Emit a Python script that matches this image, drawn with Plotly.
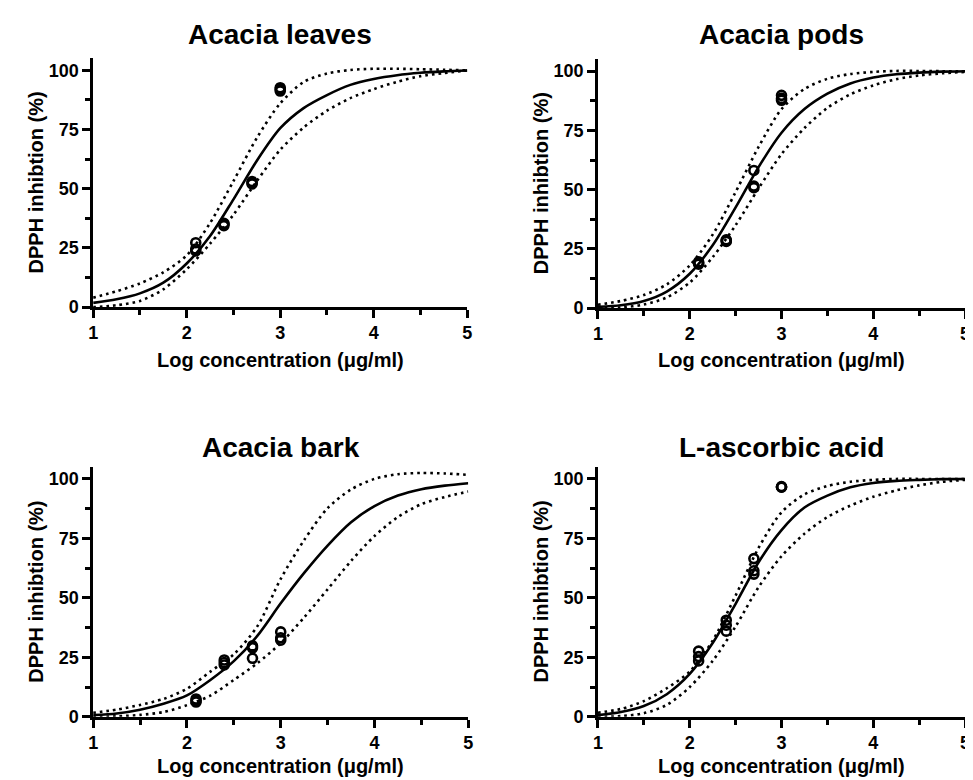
import plotly.graph_objects as go

# ---------------- data ----------------
x_grid = [1.0, 1.25, 1.5, 1.75, 2.0, 2.25, 2.5, 2.75, 3.0, 3.25, 3.5, 3.75, 4.0, 4.25, 4.5, 4.75, 5.0]
conc_log = [2.097, 2.398, 2.699, 3.0]

leaves_fit = [1.8, 3.3, 5.8, 10.3, 18.4, 30.0, 45.5, 61.8, 75.5, 84.0, 89.5, 93.8, 96.3, 97.9, 98.9, 99.5, 99.9]
leaves_upper = [4.0, 6.7, 10.0, 14.7, 21.8, 35.5, 53.2, 71.4, 86.0, 95.0, 98.6, 100.1, 100.6, 100.6, 100.4, 100.2, 99.9]
leaves_lower = [0.0, 0.8, 2.6, 7.5, 16.0, 26.8, 39.0, 53.2, 66.4, 75.8, 82.9, 88.2, 92.0, 95.1, 97.5, 98.8, 99.9]
leaves_reps = [[27.2, 23.7, 24.5], [35.4, 34.4, 35.0], [52.4, 53.0, 52.0], [92.6, 91.2, 92.0]]

pods_fit = [0.5, 1.2, 3.0, 7.0, 14.5, 26.5, 42.5, 59.5, 74.0, 84.0, 90.5, 94.8, 97.3, 98.7, 99.4, 99.8, 100.0]
pods_upper = [1.4, 3.0, 5.5, 10.0, 18.0, 31.0, 49.0, 68.0, 84.0, 92.5, 96.8, 98.8, 99.7, 100.1, 100.1, 100.0, 100.0]
pods_lower = [0.0, 0.3, 1.5, 4.5, 10.8, 21.5, 35.0, 50.5, 65.0, 76.0, 84.5, 90.2, 94.0, 96.6, 98.2, 99.1, 99.7]
pods_reps = [[19.0, 18.5, 19.5], [28.1, 28.8, 28.5], [58.1, 50.8, 51.5], [89.8, 87.7, 88.5]]

bark_fit = [0.7, 1.4, 3.0, 5.5, 9.0, 15.5, 23.4, 34.0, 47.7, 60.5, 72.0, 81.8, 88.6, 93.0, 95.7, 97.2, 98.2]
bark_upper = [1.7, 3.0, 5.0, 7.5, 11.8, 19.0, 26.3, 38.0, 58.0, 74.3, 87.7, 95.6, 100.0, 102.0, 102.5, 102.3, 101.7]
bark_lower = [0.0, 0.2, 0.8, 2.0, 4.9, 8.9, 15.5, 22.5, 31.0, 41.8, 53.6, 65.5, 76.0, 84.0, 89.4, 92.4, 94.7]
bark_reps = [[7.5, 6.2, 6.8], [23.9, 21.8, 22.8], [29.8, 29.0, 24.6], [35.7, 32.2, 33.2]]

ascorbic_fit = [0.7, 2.0, 4.5, 9.5, 18.0, 31.0, 47.5, 65.0, 78.5, 88.0, 93.0, 96.5, 98.3, 99.2, 99.6, 99.9, 100.0]
ascorbic_upper = [1.7, 3.3, 6.6, 12.0, 19.0, 32.0, 51.0, 71.0, 86.0, 93.5, 97.0, 98.8, 99.6, 100.0, 100.0, 100.0, 100.0]
ascorbic_lower = [0.0, 0.3, 1.5, 5.0, 12.5, 23.5, 38.0, 54.5, 67.5, 77.0, 84.0, 88.8, 92.5, 95.2, 97.3, 98.8, 99.6]
ascorbic_reps = [[27.6, 25.3, 23.5], [40.6, 38.5, 36.0], [66.5, 61.4, 60.0], [96.8, 96.5, 96.6]]

panel_titles = ["Acacia leaves", "Acacia pods", "Acacia bark", "L-ascorbic acid"]
x_title = "Log concentration (μg/ml)"
y_title = "DPPH inhibtion (%)"

# ---------------- layout geometry ----------------
W, H = 973, 780
x_doms = [[81 / W, 459 / W], [591 / W, 962 / W], [81 / W, 460 / W], [591 / W, 962 / W]]
y_doms = [[1 - 303 / H, 1 - 51 / H], [1 - 304 / H, 1 - 52 / H], [1 - 718 / H, 1 - 465 / H], [1 - 718 / H, 1 - 465 / H]]
title_y = [27, 27, 445, 445]
xtitle_y = [357, 357, 768, 768]

FONT = "Liberation Sans, Arial, sans-serif"

panels = [
    (leaves_fit, leaves_upper, leaves_lower, leaves_reps),
    (pods_fit, pods_upper, pods_lower, pods_reps),
    (bark_fit, bark_upper, bark_lower, bark_reps),
    (ascorbic_fit, ascorbic_upper, ascorbic_lower, ascorbic_reps),
]

fig = go.Figure()
annotations = []
for i, (fit, upper, lower, reps) in enumerate(panels):
    xa = "x" if i == 0 else f"x{i + 1}"
    ya = "y" if i == 0 else f"y{i + 1}"
    for band in (upper, lower):
        fig.add_trace(go.Scatter(
            x=x_grid, y=band, mode="lines", xaxis=xa, yaxis=ya, showlegend=False,
            line=dict(color="black", width=2.6, dash="2.6px,4px", shape="spline", smoothing=0.8),
        ))
    fig.add_trace(go.Scatter(
        x=x_grid, y=fit, mode="lines", xaxis=xa, yaxis=ya, showlegend=False,
        line=dict(color="black", width=2.6, shape="spline", smoothing=0.8),
    ))
    px, py = [], []
    for xv, vals in zip(conc_log, reps):
        for v in vals:
            px.append(xv)
            py.append(v)
    fig.add_trace(go.Scatter(
        x=px, y=py, mode="markers", xaxis=xa, yaxis=ya, showlegend=False,
        marker=dict(symbol="circle-open", size=9, color="black", line=dict(width=2.6, color="black")),
    ))

    xkey = "xaxis" if i == 0 else f"xaxis{i + 1}"
    ykey = "yaxis" if i == 0 else f"yaxis{i + 1}"
    tickfont = dict(family=FONT, size=18, color="black", weight="bold")
    fig.update_layout(**{
        xkey: dict(
            domain=x_doms[i], anchor=ya, range=[1, 5], tick0=1, dtick=1,
            ticks="outside", ticklen=8, tickwidth=2.5, tickcolor="black",
            showline=True, linewidth=2.5, linecolor="black",
            showgrid=False, zeroline=False, tickfont=tickfont,
            minor=dict(ticks="outside", ticklen=5, tickwidth=2.5, tickcolor="black", dtick=0.5, showgrid=False),
        ),
        ykey: dict(
            domain=y_doms[i], anchor=xa, range=[0, 105], tick0=0, dtick=25,
            ticks="outside", ticklen=8, tickwidth=2.5, tickcolor="black",
            showline=True, linewidth=2.5, linecolor="black",
            showgrid=False, zeroline=False, tickfont=tickfont,
            minor=dict(ticks="outside", ticklen=5, tickwidth=2.5, tickcolor="black", dtick=12.5, showgrid=False),
        ),
    })

    xc = (x_doms[i][0] + x_doms[i][1]) / 2
    yc = (y_doms[i][0] + y_doms[i][1]) / 2
    annotations.append(dict(
        text=panel_titles[i], x=xc, y=1 - title_y[i] / H, xref="paper", yref="paper",
        xanchor="center", yanchor="middle", showarrow=False,
        font=dict(family=FONT, size=28, color="black", weight="bold"),
    ))
    annotations.append(dict(
        text=x_title, x=xc, y=1 - xtitle_y[i] / H, xref="paper", yref="paper",
        xanchor="center", yanchor="middle", showarrow=False,
        font=dict(family=FONT, size=20, color="black", weight="bold"),
    ))
    ytx = 23 if i % 2 == 0 else 533
    annotations.append(dict(
        text=y_title, x=ytx / W, y=yc, xref="paper", yref="paper",
        xanchor="center", yanchor="middle", showarrow=False, textangle=-90,
        font=dict(family=FONT, size=20, color="black", weight="bold"),
    ))

fig.update_layout(
    width=W, height=H, margin=dict(l=0, r=0, t=0, b=0),
    paper_bgcolor="white", plot_bgcolor="white",
    annotations=annotations, showlegend=False,
)

fig.write_html("out.html")
